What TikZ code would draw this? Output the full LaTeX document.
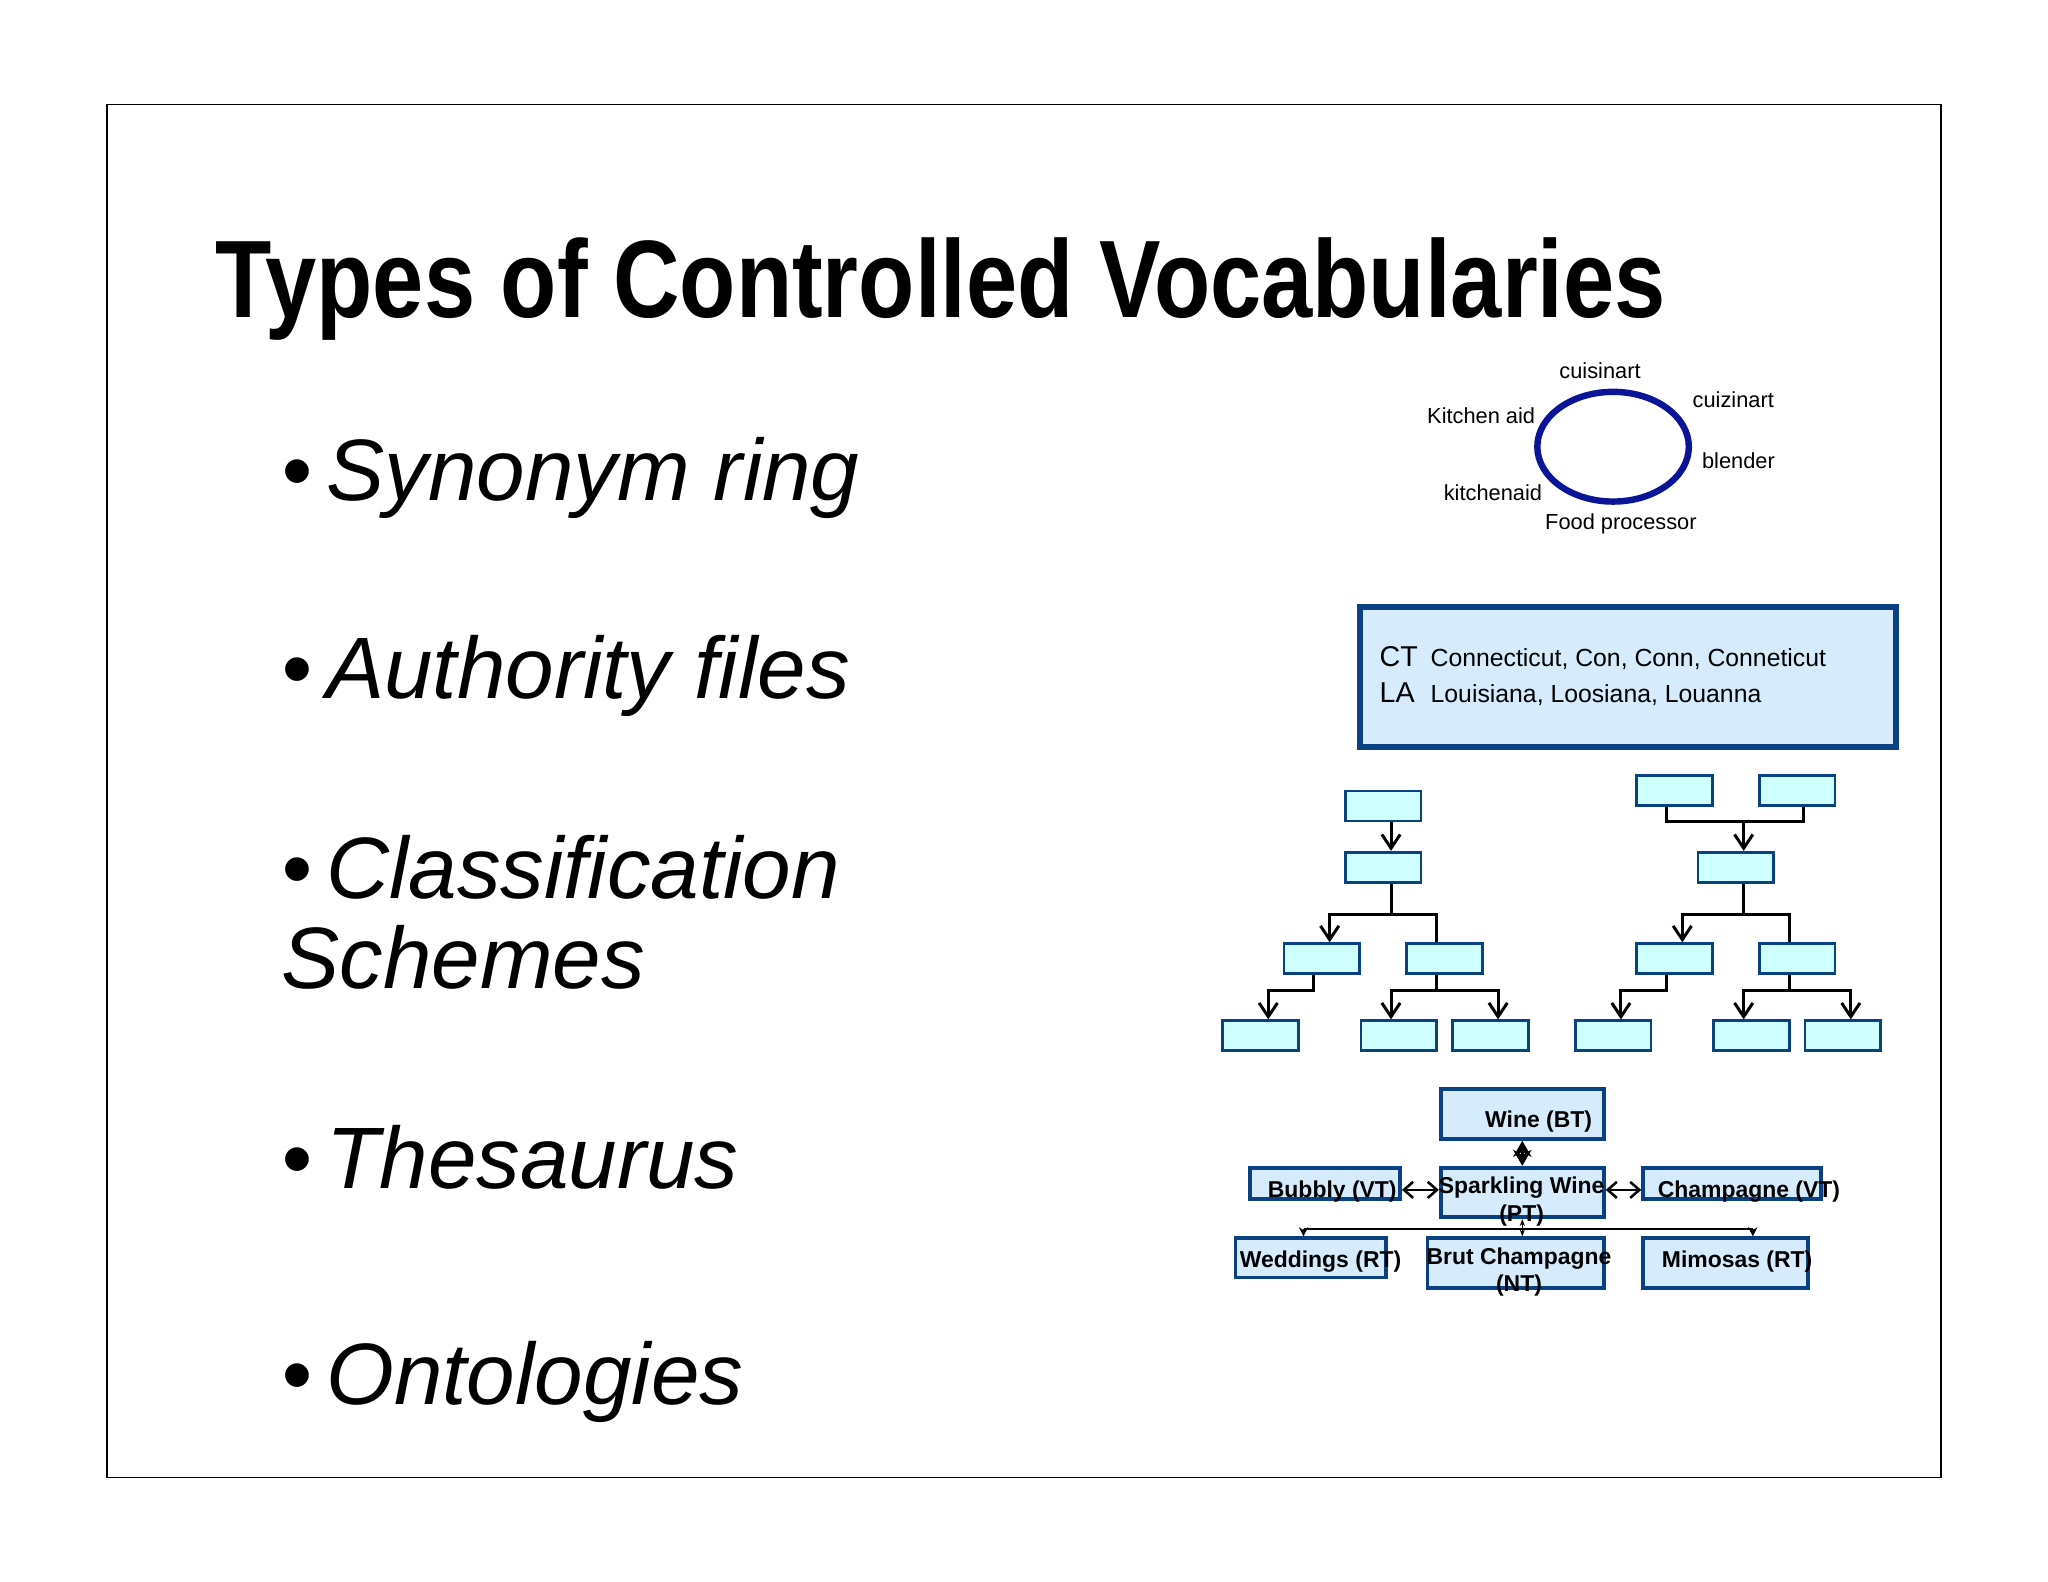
\documentclass[tikz,border=0pt]{standalone}
\usepackage{fontspec}
\setmainfont{Liberation Sans}
\usetikzlibrary{arrows.meta,positioning}
\definecolor{ringblue}{RGB}{10,20,150}
\definecolor{boxline}{RGB}{10,65,130}
\definecolor{authfill}{RGB}{214,236,252}
\definecolor{treefill}{RGB}{208,255,255}
\tikzset{leaf/.style={draw=boxline,fill=treefill,line width=1.2pt,
                      minimum width=1.16cm,minimum height=0.46cm,inner sep=0pt}}
\tikzset{term/.style={draw=boxline,fill=authfill,line width=1.6pt,inner sep=0pt}}
\tikzset{lbl/.style={font=\fontsize{10}{12}\selectfont\bfseries,inner sep=0pt}}
\tikzset{ringlbl/.style={font=\fontsize{9.5}{11}\selectfont,inner sep=0pt}}
\tikzset{bullet/.style={anchor=base west,font=\fontsize{38}{44}\selectfont\itshape,inner sep=0pt}}

\begin{document}
\begin{tikzpicture}[x=0.02cm,y=-0.02cm,>={Stealth[length=7pt,width=7pt]},
    % tree arrows
    down/.style={->,line width=1.3pt,>={Straight Barb[length=6pt,width=8pt]}}
  ]
    \useasboundingbox (0,0) rectangle (1568,1211);
    \draw[line width=0.6pt] (82,80) rectangle (1486,1131);

    \node[anchor=base west,inner sep=0pt] (title) at (165,243)
      {\scalebox{0.836}[1]{\fontsize{48}{52}\selectfont\bfseries Types of Controlled Vocabularies}};

    % bullets
    \node[bullet] (b1) at (215,383) {\textbullet\,Synonym ring};
    \node[bullet] (b2) at (215,535) {\textbullet\,Authority files};
    \node[bullet] (b3) at (215,688) {\textbullet\,Classification};
    \node[bullet] (b3b) at (215,757) {Schemes};
    \node[bullet] (b4) at (215,910) {\textbullet\,Thesaurus};
    \node[bullet] (b5) at (215,1075) {\textbullet\,Ontologies};

    % synonym ring
    \draw[ringblue,line width=2.8pt] (1235,342) ellipse [x radius=58,y radius=42];
    \node[ringlbl] (r1) at (1225,284) {cuisinart};
    \node[ringlbl] (r2) at (1327,306) {cuizinart};
    \node[ringlbl] (r3) at (1134,318) {Kitchen aid};
    \node[ringlbl] (r4) at (1331,353) {blender};
    \node[ringlbl] (r5) at (1143,377) {kitchenaid};
    \node[ringlbl] (r6) at (1241,401) {Food processor};

    % authority file
    \node[draw=boxline,fill=authfill,line width=2.6pt,minimum width=8.2cm,
          minimum height=2.14cm] (auth) at (1246.5,518.5) {};
    \node[anchor=base west,font=\fontsize{12.5}{14}\selectfont,inner sep=0pt] (ct) at (1056,510) {CT};
    \node[anchor=base west,font=\fontsize{12.5}{14}\selectfont,inner sep=0pt] (la) at (1056,538) {LA};
    \node[anchor=base west,font=\fontsize{10.8}{12}\selectfont,inner sep=0pt] (ctt) at (1095,510)
      {Connecticut, Con, Conn, Conneticut};
    \node[anchor=base west,font=\fontsize{10.8}{12}\selectfont,inner sep=0pt] (lat) at (1095,538)
      {Louisiana, Loosiana, Louanna};

    % classification trees
    \node[leaf] (a0) at (1059,617) {};
    \node[leaf] (a1) at (1059,664) {};
    \node[leaf] (a2) at (1012,734) {};
    \node[leaf] (a3) at (1106,734) {};
    \node[leaf] (a4) at (965,793) {};
    \node[leaf] (a5) at (1071,793) {};
    \node[leaf] (a6) at (1141,793) {};
    \draw[down] (a0.south -| 1065,0) -- (a1.north -| 1065,0);
    \draw[down] (a1.south -| 1065,0) |- (1018,700) -- (a2.north -| 1018,0);
    \draw[line width=1.3pt] (1065,700) -| (a3.north -| 1100,0);
    \draw[down] (a2.south -| 1006,0) |- (971,758) -- (a4.north -| 971,0);
    \draw[down] (a3.south -| 1100,0) |- (1065,758) -- (a5.north -| 1065,0);
    \draw[down] (1100,758) -| (a6.north -| 1147,0);

    \node[leaf] (c0) at (1282,605) {};
    \node[leaf] (c7) at (1376,605) {};
    \node[leaf] (c1) at (1329,664) {};
    \node[leaf] (c2) at (1282,734) {};
    \node[leaf] (c3) at (1376,734) {};
    \node[leaf] (c4) at (1235,793) {};
    \node[leaf] (c5) at (1341,793) {};
    \node[leaf] (c6) at (1411,793) {};
    \draw[line width=1.3pt] (c0.south -| 1276,0) |- (1381,629) -- (c7.south -| 1381,0);
    \draw[down] (1335,629) -- (c1.north -| 1335,0);
    \draw[down] (c1.south -| 1335,0) |- (1288,700) -- (c2.north -| 1288,0);
    \draw[line width=1.3pt] (1335,700) -| (c3.north -| 1370,0);
    \draw[down] (c2.south -| 1276,0) |- (1241,758) -- (c4.north -| 1241,0);
    \draw[down] (c3.south -| 1370,0) |- (1335,758) -- (c5.north -| 1335,0);
    \draw[down] (1370,758) -| (c6.north -| 1417,0);

    % thesaurus
    \node[term,minimum width=2.5cm,minimum height=0.76cm] (wine) at (1165.5,853) {};
    \node[term,minimum width=2.5cm,minimum height=0.76cm] (spark) at (1165.5,913) {};
    \node[term,minimum width=2.3cm,minimum height=0.48cm] (bub) at (1014.5,906) {};
    \node[term,minimum width=2.72cm,minimum height=0.48cm] (champ) at (1326,906) {};
    \node[term,minimum width=2.3cm,minimum height=0.6cm] (wed) at (1003.5,963) {};
    \node[term,minimum width=2.7cm,minimum height=0.76cm] (brut) at (1160.5,967) {};
    \node[term,minimum width=2.52cm,minimum height=0.76cm] (mim) at (1321,967) {};

    \node[lbl] (winet) at (1178,859) {Wine (BT)};
    \node[lbl,align=center] (sparkt) at (1165,920) {Sparkling Wine\\(PT)};
    \node[lbl] (bubt) at (1020,912) {Bubbly (VT)};
    \node[lbl] (champt) at (1339,912) {Champagne (VT)};
    \node[lbl] (wedt) at (1011,966) {Weddings (RT)};
    \node[lbl,align=center] (brutt) at (1163,974) {Brut Champagne\\(NT)};
    \node[lbl] (mimt) at (1330,966) {Mimosas (RT)};

    \draw[{Stealth[length=7pt,width=8pt]}-{Stealth[length=7pt,width=8pt]},line width=1.2pt]
      (wine.south) -- (spark.north);
    \draw[{Straight Barb[length=4pt,width=7pt]}-{Straight Barb[length=4pt,width=7pt]},line width=1.1pt]
      (bub.east |- 0,911) -- (spark.west |- 0,911);
    \draw[{Straight Barb[length=4pt,width=7pt]}-{Straight Barb[length=4pt,width=7pt]},line width=1.1pt]
      (spark.east |- 0,911) -- (champ.west |- 0,911);
    \draw[line width=0.8pt] (998,941) -- (1342,941);
    \draw[->,line width=0.8pt,>={Stealth[length=4pt,width=4pt]}] (998,941) -- (wed.north -| 998,0);
    \draw[->,line width=0.8pt,>={Stealth[length=4pt,width=4pt]}] (1342,941) -- (mim.north -| 1342,0);
    \draw[<->,line width=0.6pt,>={Stealth[length=3pt]}] (spark.south) -- (brut.north -| spark.south);
\end{tikzpicture}
\end{document}
